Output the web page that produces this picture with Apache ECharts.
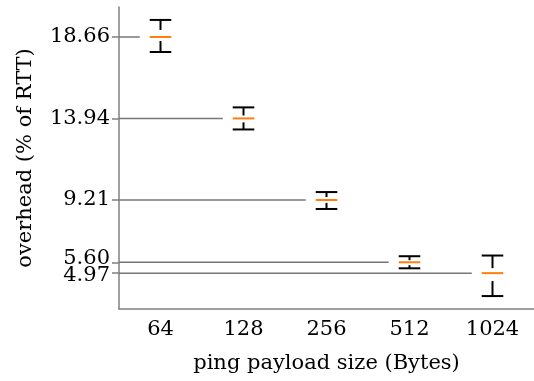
<!DOCTYPE html>
<html lang="en">
<head>
  <meta charset="UTF-8">
  <title>ping overhead</title>
  <script src="https://cdn.jsdelivr.net/npm/echarts@6/dist/echarts.min.js"></script>
</head>
<body style="margin:0">
  <div id="main" style="width:534px;height:381px"></div>
  <script>
    // payload sizes and the spread of overhead per size
    var sizes = ['64', '128', '256', '512', '1024']
    var mins    = [17.79, 13.30, 8.69, 5.25, 3.64]
    var q1s     = [18.43, 13.71, 9.04, 5.43, 4.51]
    var medians = [18.66, 13.94, 9.21, 5.60, 4.97]
    var q3s     = [19.07, 14.11, 9.38, 5.72, 5.26]
    var maxs    = [19.65, 14.58, 9.67, 5.95, 5.99]
    var yTicks  = [18.66, 13.94, 9.21, 5.60, 4.97]
    // 4.97 sits right under 5.60, so its label goes on a second axis
    var yTicksUpper = [18.66, 13.94, 9.21, 5.60]
    var yTicksLower = [4.97]

    var data = sizes.map(function (s, i) {
      return [i, mins[i], q1s[i], medians[i], q3s[i], maxs[i]]
    })

    var font = 'DejaVu Serif'
    var fs = 21
    var grey = '#808080'
    var yMin = 2.89, yMax = 20.4

    function renderItem(params, api) {
      var i = api.value(0)
      var band = api.size([1, 0])[0]
      var half = band * 0.13
      var pMin = api.coord([i, api.value(1)])
      var pQ1 = api.coord([i, api.value(2)])
      var pMed = api.coord([i, api.value(3)])
      var pQ3 = api.coord([i, api.value(4)])
      var pMax = api.coord([i, api.value(5)])
      var x = pMed[0]
      var left = params.coordSys.x
      var black = { stroke: '#000', lineWidth: 2 }
      return {
        type: 'group',
        children: [
          // reference line from the axis to the median
          { type: 'line', shape: { x1: left, y1: pMed[1], x2: x - band * 0.25, y2: pMed[1] },
            style: { stroke: '#777', lineWidth: 1.5 } },
          { type: 'line', shape: { x1: x, y1: pMax[1], x2: x, y2: pQ3[1] }, style: black },
          { type: 'line', shape: { x1: x, y1: pQ1[1], x2: x, y2: pMin[1] }, style: black },
          { type: 'line', shape: { x1: x - half, y1: pMax[1], x2: x + half, y2: pMax[1] }, style: black },
          { type: 'line', shape: { x1: x - half, y1: pMin[1], x2: x + half, y2: pMin[1] }, style: black },
          { type: 'line', shape: { x1: x - half, y1: pMed[1], x2: x + half, y2: pMed[1] },
            style: { stroke: '#ff7f0e', lineWidth: 2 } }
        ]
      }
    }

    var labelText = { fontFamily: font, fontSize: fs, color: '#000' }

    var myChart = echarts.init(document.getElementById('main'))
    var options = {
      animation: false,
      grid: { left: 119, right: 0, top: 7, bottom: 72 },
      xAxis: {
        type: 'category',
        data: sizes,
        name: 'ping payload size (Bytes)',
        nameLocation: 'middle',
        nameGap: 44,
        nameTextStyle: labelText,
        axisLine: { lineStyle: { color: grey, width: 1.5 } },
        axisTick: { alignWithLabel: true, length: 7, lineStyle: { color: grey, width: 1.5 } },
        axisLabel: { fontFamily: font, fontSize: fs, color: '#000', margin: 10 }
      },
      yAxis: [{
        type: 'value',
        min: yMin,
        max: yMax,
        name: 'overhead (% of RTT)',
        nameLocation: 'middle',
        nameGap: 83,
        nameTextStyle: labelText,
        splitLine: { show: false },
        axisLine: { show: true, lineStyle: { color: grey, width: 1.5 } },
        axisTick: { show: true, length: 7, customValues: yTicks, lineStyle: { color: grey, width: 1.5 } },
        axisLabel: {
          fontFamily: font, fontSize: fs, color: '#000', margin: 9,
          customValues: yTicksUpper,
          formatter: function (v) {
            // nudge the lowest one up a little so it clears 4.97
            return v < 6 ? '{up|' + v.toFixed(2) + '}' : v.toFixed(2)
          },
          rich: { up: { fontFamily: font, fontSize: fs, color: '#000', padding: [0, 0, 7, 0] } }
        }
      }, {
        type: 'value',
        position: 'left',
        min: yMin,
        max: yMax,
        splitLine: { show: false },
        axisLine: { show: false },
        axisTick: { show: false },
        axisLabel: {
          fontFamily: font, fontSize: fs, color: '#000', margin: 9,
          customValues: yTicksLower,
          formatter: '{dn|{value}}',
          rich: { dn: { fontFamily: font, fontSize: fs, color: '#000', padding: [5, 0, 0, 0] } }
        }
      }],
      series: [{
        type: 'custom',
        renderItem: renderItem,
        data: data,
        encode: { x: 0, y: [1, 2, 3, 4, 5] }
      }]
    }
    myChart.setOption(options)
  </script>
</body>
</html>
